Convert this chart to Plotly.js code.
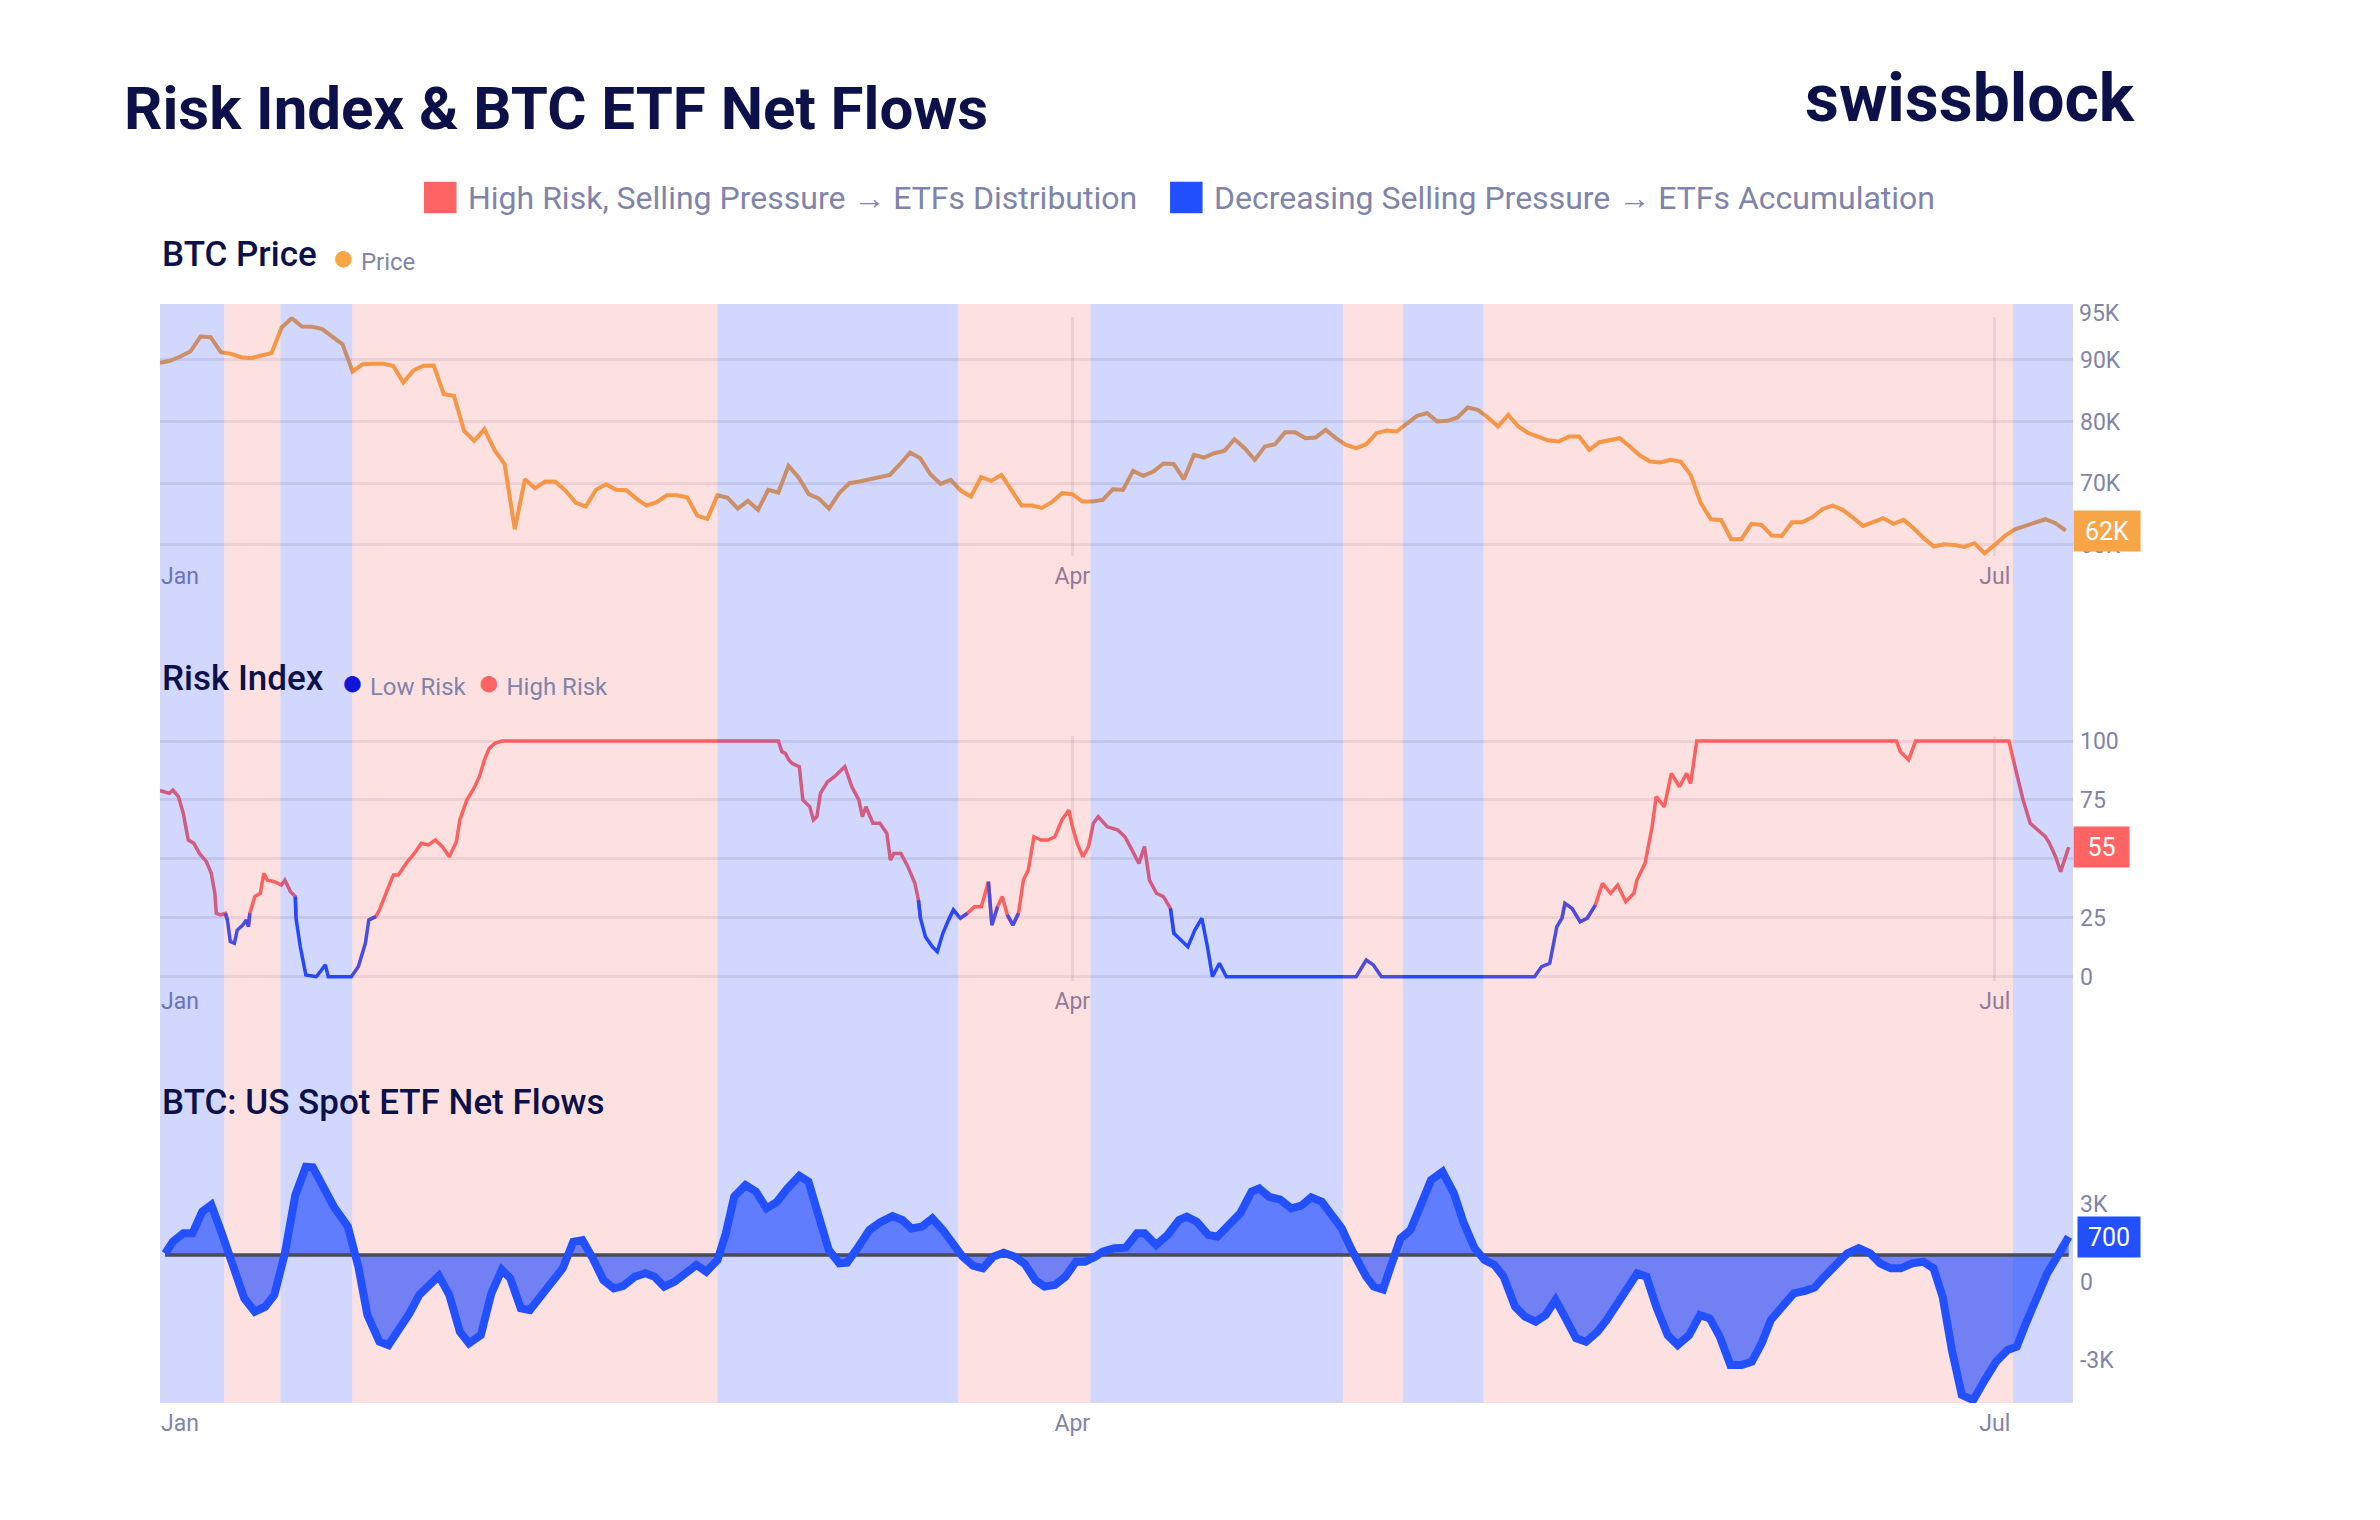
<!DOCTYPE html>
<html><head><meta charset="utf-8">
<script src="https://cdn.plot.ly/plotly-3.0.1.min.js"></script>
<style>html,body{margin:0;padding:0;background:#fff}</style>
</head><body><div id="chart" style="width:2380px;height:1520px"></div>
<script>
// ---------- data ----------
const startDate = '2026-01-01';
const axisEndDay = 188.72;
const monthTickDates = ['2026-01-01', '2026-04-01', '2026-07-01'];
const monthTickText = ['\u00a0\u00a0\u00a0\u00a0\u00a0\u00a0\u00a0Jan', 'Apr', 'Jul'];

// BTC price, thousand USD, one value per day from Jan 1
const priceK = [89.5, 89.84, 90.54, 91.35, 93.78, 93.67, 91.24, 90.97, 90.43, 90.27,
 90.70, 91.08, 95.24, 96.75, 95.40, 95.35, 94.97, 93.78, 92.54, 88.11,
 89.30, 89.35, 89.35, 89.03, 86.32, 88.27, 89.03, 89.08, 84.43, 84.16,
 78.49, 76.86, 78.76, 75.40, 73.08, 62.54, 70.65, 69.19, 70.27, 70.22,
 68.81, 66.86, 66.22, 68.92, 69.84, 68.92, 68.86, 67.51, 66.38, 66.92,
 68.05, 68.05, 67.73, 64.76, 64.22, 68.05, 67.62, 65.89, 67.13, 65.68,
 68.92, 68.49, 72.81, 70.92, 68.22, 67.51, 65.89, 68.38, 70.00, 70.27,
 70.65, 71.08, 71.35, 73.08, 74.97, 74.05, 71.46, 69.89, 70.54, 68.81,
 67.84, 70.97, 70.38, 71.35, 68.81, 66.38, 66.38, 66.00, 66.97, 68.38,
 68.22, 67.03, 67.03, 67.30, 69.03, 68.92, 72.00, 71.19, 71.89, 73.19,
 73.13, 70.65, 74.59, 74.16, 74.86, 75.24, 77.13, 75.68, 73.78, 75.95,
 76.32, 78.27, 78.27, 77.30, 77.40, 78.65, 77.30, 76.22, 75.68, 76.32,
 78.11, 78.54, 78.38, 79.73, 80.92, 81.35, 80.00, 80.11, 80.65, 82.27,
 81.89, 80.65, 79.19, 81.08, 79.19, 78.11, 77.46, 76.92, 76.76, 77.57,
 77.57, 75.41, 76.65, 76.92, 77.30, 75.95, 74.49, 73.51, 73.35, 73.78,
 73.51, 71.35, 66.76, 64.16, 64.05, 60.92, 60.92, 63.41, 63.24, 61.51,
 61.46, 63.68, 63.68, 64.49, 65.78, 66.38, 65.68, 64.43, 63.08, 63.68,
 64.32, 63.41, 64.05, 62.70, 61.08, 59.73, 60.11, 60.00, 59.68, 60.27,
 58.65, 60.00, 61.46, 62.54, 63.08, 63.68, 64.16, 63.51, 62.32];

// Risk index readings (day offset from Jan 1, value 0-100)
const riskDays = [0,0.92,1.27,1.82,2.30,2.79,3.34,3.89,4.58,5.06,5.41,5.55,5.96,6.45,6.65,6.93,7.34,7.62,8.17,8.52,
 8.72,8.86,9.35,9.90,10.24,10.59,11.28,11.97,12.32,12.87,13.35,13.42,13.84,14.39,15.42,16.32,16.60,18.88,19.57,20.26,
 20.60,21.29,21.64,22.33,23.02,23.50,24.40,25.09,25.78,26.47,27.16,27.85,28.54,29.24,29.58,30.27,30.96,31.51,32.0,32.48,
 33.03,33.72,61.0,61.35,61.69,62.04,62.38,63.07,63.42,64.11,64.46,64.80,65.15,65.84,66.53,67.56,68.25,68.94,69.29,69.64,
 70.33,71.02,71.71,72.05,72.40,73.09,73.78,74.47,74.82,75.02,75.51,76.20,76.68,77.23,77.79,78.27,78.96,79.65,80.34,81.03,
 81.72,82.07,82.62,83.10,83.59,84.14,84.69,85.18,85.66,86.21,86.90,87.59,88.28,88.97,89.66,90.01,90.49,91.04,91.60,92.08,
 92.56,93.46,94.50,95.19,95.88,96.57,97.12,97.61,98.30,98.99,99.68,100.02,100.71,101.40,102.09,102.78,103.33,103.82,104.51,105.20,
 118.0,119.0,119.7,120.5,135.6,136.3,137.1,137.4,137.8,138.3,138.6,139.3,140.1,140.8,141.6,142.3,143.1,143.8,144.6,145.4,
 145.7,146.5,146.9,147.2,147.6,148.4,149.1,149.9,150.6,151.0,151.6,171.3,171.7,172.5,173.2,182.4,183.0,183.8,184.5,185.3,
 186.0,186.4,187.0,187.5,188.3];
const riskValues = [79,77.8,79.2,76.4,69.3,58.0,56.6,52.3,48.8,43.9,35.4,26.9,26.2,26.9,24.1,14.9,14.2,19.8,21.9,24.1,
 21.2,26.9,34.0,35.4,43.9,41.0,40.3,38.9,41.0,36.1,34.0,24.8,12.7,0.7,0,5.0,0,0,4.3,14.2,
 24.1,25.5,28.3,35.4,43.2,43.2,48.8,52.3,56.6,55.9,58.0,55.2,50.9,57.3,66.5,75.0,79.9,84.9,91.9,96.9,
 99.0,100,100,95.5,94.8,92.0,90.5,89.1,75.0,72.1,66.5,67.9,77.8,82.7,84.9,89.1,80.6,75.0,67.9,72.1,
 65.1,65.1,60.8,49.5,52.3,52.3,46.7,39.6,32.5,24.8,17.0,12.7,10.6,18.4,24.1,28.3,24.8,26.9,29.7,29.7,
 40.3,21.9,29.7,34.0,26.2,21.9,26.9,41.0,45.3,59.4,58.0,58.0,59.4,66.5,70.7,63.6,56.6,50.9,55.2,65.1,
 67.9,63.6,62.2,59.4,53.8,48.1,55.2,41.0,35.4,34.0,29.0,18.4,15.6,12.7,19.8,24.8,12.7,0,5.7,0,
 0,7.1,5.0,0,0,4.3,5.7,12.7,21.2,24.8,31.1,29.0,23.3,24.8,30.4,39.6,35.4,38.9,31.8,35.4,
 41.0,48.1,56.6,63.6,76.4,72.1,86.3,80.6,86.3,82.0,100,100,95.5,92.0,100,100,89.1,75.0,65.1,62.2,
 59.4,56.6,50.9,44.6,55];
const riskThreshold = 25;

// US spot ETF net flows, BTC (day offset from Jan 1, value)
const flowDays = [0.51,1.27,2.30,3.20,4.17,5.06,6.10,7.14,8.31,9.35,10.38,11.28,12.32,13.35,14.39,15.08,16.11,17.15,18.53,19.57,
 20.46,21.64,22.54,23.50,24.61,25.58,26.47,27.51,28.54,29.58,30.48,31.65,32.69,33.72,34.55,35.59,36.49,37.52,38.70,39.73,
 40.77,41.67,42.70,43.74,44.77,45.67,46.85,47.88,48.78,49.74,50.78,51.82,52.92,53.89,55.0,55.82,56.65,57.76,58.79,59.83,
 60.87,61.90,63.07,63.97,64.94,65.98,67.01,67.77,68.81,69.98,71.02,72.26,73.23,74.12,75.16,76.19,77.23,78.13,79.17,80.20,
 81.17,82.21,83.24,84.28,85.31,86.35,87.25,88.28,89.32,90.36,91.25,92.29,93.0,94.13,95.26,96.39,97.14,98.27,99.40,100.53,
 101.29,102.27,103.40,104.30,105.43,106.56,107.69,108.44,109.42,110.48,111.61,112.59,113.57,114.62,115.60,116.58,117.48,118.24,118.99,119.74,
 120.65,121.47,122.38,123.36,124.26,125.39,126.52,127.65,128.63,129.69,130.67,131.64,132.55,133.68,134.66,135.71,136.69,137.67,138.57,139.70,
 140.68,141.81,142.72,143.62,144.60,145.73,146.64,147.61,148.74,149.72,150.85,151.91,152.89,153.87,154.92,156.05,157.03,158.01,158.91,160.04,
 161.17,162.30,163.21,164.19,165.32,166.45,167.58,168.71,169.69,170.74,171.72,172.85,173.98,174.96,175.86,176.77,177.75,178.88,180.01,181.13,
 182.27,183.17,184.15,185.13,186.18,187.16,188.29];
const flowValues = [60,510,830,830,1660,1920,830,-450,-1660,-2170,-1980,-1530,60,2300,3380,3360,2550,1850,1090,-450,
 -2300,-3320,-3450,-2940,-2240,-1530,-1210,-800,-1530,-2940,-3380,-3070,-1470,-570,-890,-2040,-2110,-1600,-1090,-510,
 510,570,-130,-960,-1280,-1190,-830,-700,-830,-1210,-1020,-700,-380,-640,-190,830,2240,2680,2430,1790,
 2040,2550,3030,2810,1600,190,-320,-290,260,960,1250,1490,1340,1020,1090,1400,960,470,-60,-410,
 -510,-60,90,-60,-340,-960,-1210,-1150,-830,-260,-260,-60,130,260,280,830,830,380,770,1340,
 1470,1280,770,700,1150,1600,2430,2550,2230,2130,1790,1890,2210,2040,1530,1020,260,-380,-830,-1210,
 -1320,-380,640,960,1850,2870,3190,2360,1210,260,-190,-380,-830,-1980,-2360,-2550,-2300,-1720,-2360,-3190,
 -3320,-2940,-2490,-1980,-1340,-700,-830,-1980,-3070,-3450,-3070,-2300,-2430,-3130,-4210,-4210,-4090,-3380,-2490,-1920,
 -1470,-1370,-1250,-830,-380,60,260,60,-320,-510,-510,-320,-260,-510,-1600,-3640,-5360,-5560,-4790,-4090,
 -3640,-3510,-2550,-1660,-700,-60,700];

// Background regimes (day offsets)
const bandStartDays = [0, 6.33, 11.89, 18.97, 55.0, 78.75, 91.80, 116.69, 122.60, 130.55, 182.81];
const bandTypes = ['acc','dist','acc','dist','acc','dist','acc','dist','acc','dist','acc'];

const priceTicks = [60, 70, 80, 90];
const riskTicks = [0, 25, 50, 75, 100];
const flowTicks = [3000, 0, -3000];
const flowTickText = ['3K', '0', '-3K'];

// ---------- styling ----------
const NAVY = '#0c1149', GRAY = '#8084aa';
const ORANGE = '#f7a546', RED = '#ff6464', BLUE = '#2a4dff', FLOWBLUE = '#2350ff';
const BAND_COLOR = {acc: 'rgba(25,55,245,0.2)', dist: 'rgba(245,75,75,0.17)'};
const GRID = 'rgba(110,95,140,0.13)';
const FONT = 'Roboto, "Noto Sans", sans-serif';

const DAY = 86400000, T0 = Date.parse(startDate + 'T00:00:00Z');
const toDate = d => new Date(T0 + d * DAY).toISOString().slice(0, 19).replace('T', ' ');

const priceDates = priceK.map((_, i) => toDate(i));
const riskDates = riskDays.map(toDate);
const flowDates = flowDays.map(toDate);

// split risk line into high / low parts (neighbouring points kept so the line is continuous)
const n = riskValues.length;
const hiY = riskValues.map((v, i) => (v >= riskThreshold || (i > 0 && riskValues[i-1] >= riskThreshold) || (i < n-1 && riskValues[i+1] >= riskThreshold)) ? v : null);
const loY = riskValues.map((v, i) => (v < riskThreshold || (i > 0 && riskValues[i-1] < riskThreshold) || (i < n-1 && riskValues[i+1] < riskThreshold)) ? v : null);

const traces = [
  {x: priceDates, y: priceK, xaxis: 'x', yaxis: 'y', mode: 'lines', line: {color: ORANGE, width: 4}, showlegend: false},
  {x: riskDates, y: hiY, xaxis: 'x2', yaxis: 'y2', mode: 'lines', line: {color: RED, width: 3.5}, connectgaps: false, showlegend: false},
  {x: riskDates, y: loY, xaxis: 'x2', yaxis: 'y2', mode: 'lines', line: {color: BLUE, width: 3.5}, connectgaps: false, showlegend: false},
  {x: flowDates, y: flowValues, xaxis: 'x3', yaxis: 'y3', mode: 'lines', fill: 'tozeroy', fillcolor: 'rgba(20,65,255,0.6)', line: {width: 0}, showlegend: false},
  {x: [flowDates[0], flowDates[flowDates.length-1]], y: [0, 0], xaxis: 'x3', yaxis: 'y3', mode: 'lines', line: {color: '#4a4a58', width: 3.5}, showlegend: false},
  {x: flowDates, y: flowValues, xaxis: 'x3', yaxis: 'y3', mode: 'lines', line: {color: FLOWBLUE, width: 8}, showlegend: false}
];

// background bands: above traces for price/risk, below traces for flows
const SPLIT = (1403 - 1050) / 1099;
const shapes = [];
bandStartDays.forEach((s, i) => {
  const e = i < bandStartDays.length - 1 ? bandStartDays[i+1] : axisEndDay;
  const c = BAND_COLOR[bandTypes[i]];
  shapes.push({type: 'rect', xref: 'x', yref: 'paper', x0: toDate(s), x1: toDate(e), y0: SPLIT, y1: 1, fillcolor: c, line: {width: 0}, layer: 'above'});
  shapes.push({type: 'rect', xref: 'x', yref: 'paper', x0: toDate(s), x1: toDate(e), y0: 0, y1: SPLIT, fillcolor: c, line: {width: 0}, layer: 'below'});
});
// legend squares
shapes.push({type: 'rect', xref: 'paper', yref: 'paper', x0: 0.1380, x1: 0.1550, y0: 1.0825, y1: 1.1113, fillcolor: RED, line: {width: 0}});
shapes.push({type: 'rect', xref: 'paper', yref: 'paper', x0: 0.5280, x1: 0.5450, y0: 1.0825, y1: 1.1113, fillcolor: FLOWBLUE, line: {width: 0}});

const lastPrice = priceK[priceK.length-1];
const lastRisk = riskValues[riskValues.length-1];
const lastFlow = flowValues[flowValues.length-1];

const dot = (c) => '<span style="color:' + c + ';font-size:38px">\u25CF</span>';
const ann = (o) => Object.assign({showarrow: false, xref: 'paper', yref: 'paper', xanchor: 'left', yanchor: 'middle'}, o);
const annotations = [
  ann({x: -0.0198, y: 1.1780, text: 'Risk Index & BTC ETF Net Flows', font: {family: FONT, size: 60, color: NAVY, weight: 700}}),
  ann({x: 1.0334, y: 1.1866, xanchor: 'right', text: 'swissblock', font: {family: FONT, size: 66, color: NAVY, weight: 700}}),
  ann({x: 0.1600, y: 1.0965, text: 'High Risk, Selling Pressure \u2192 ETFs Distribution', font: {family: FONT, size: 32, color: GRAY}}),
  ann({x: 0.5500, y: 1.0965, text: 'Decreasing Selling Pressure \u2192 ETFs Accumulation', font: {family: FONT, size: 32, color: GRAY}}),
  ann({x: 0, y: 1.0450, text: 'BTC Price', font: {family: FONT, size: 35, color: NAVY, weight: 500}}),
  ann({x: 0.0890, y: 1.0425, text: dot(ORANGE) + '\u00a0Price', font: {family: FONT, size: 24, color: GRAY}}),
  ann({x: 0, y: 0.6592, text: 'Risk Index', font: {family: FONT, size: 35, color: NAVY, weight: 500}}),
  ann({x: 0.0938, y: 0.6558, text: dot('#1414d8') + '\u00a0Low Risk\u00a0\u00a0' + dot(RED) + '\u00a0High Risk', font: {family: FONT, size: 24, color: GRAY}}),
  ann({x: 0, y: 0.2731, text: 'BTC: US Spot ETF Net Flows', font: {family: FONT, size: 35, color: NAVY, weight: 500}}),
  ann({x: 1, xshift: 4, y: 0.9918, text: '95K', font: {family: FONT, size: 23, color: GRAY}}),
  ann({x: 1, yref: 'y', y: lastPrice, text: Math.round(lastPrice) + 'K', bgcolor: ORANGE, width: 66, height: 40, borderpad: 0, font: {family: FONT, size: 25, color: '#ffffff'}}),
  ann({x: 1, yref: 'y2', y: lastRisk, text: String(Math.round(lastRisk)), bgcolor: RED, width: 55, height: 40, borderpad: 0, font: {family: FONT, size: 25, color: '#ffffff'}}),
  ann({x: 1, xshift: 4, yref: 'y3', y: lastFlow, text: String(lastFlow), bgcolor: FLOWBLUE, width: 62, height: 40, borderpad: 0, font: {family: FONT, size: 25, color: '#ffffff'}})
];

const tickFont = {family: FONT, size: 23, color: GRAY};
const xRange = [toDate(0), toDate(axisEndDay)];
const xCommon = {type: 'date', range: xRange, tickvals: monthTickDates, ticktext: monthTickText, tickfont: tickFont,
  showline: false, zeroline: false, ticks: '', showgrid: true, gridcolor: GRID, gridwidth: 3, ticklabelstandoff: 4};
const yCommon = {side: 'right', tickfont: tickFont, showline: false, zeroline: false, ticks: '', gridcolor: GRID, gridwidth: 3, ticklabelstandoff: 6};

const layout = {
  width: 2380, height: 1520,
  margin: {l: 160, r: 307, t: 304, b: 117},
  paper_bgcolor: '#ffffff', plot_bgcolor: 'rgba(0,0,0,0)',
  showlegend: false, hovermode: false,
  font: {family: FONT, color: GRAY},
  xaxis: Object.assign({}, xCommon, {anchor: 'y'}),
  xaxis2: Object.assign({}, xCommon, {anchor: 'y2', matches: 'x'}),
  xaxis3: Object.assign({}, xCommon, {anchor: 'y3', matches: 'x', showgrid: false}),
  yaxis: Object.assign({}, yCommon, {domain: [0.7707, 0.9885], range: [58.2, 97.0], tickvals: priceTicks, ticktext: priceTicks.map(v => v + 'K'), showgrid: true}),
  yaxis2: Object.assign({}, yCommon, {domain: [0.3836, 0.6066], range: [-2, 102], tickvals: riskTicks, showgrid: true}),
  yaxis3: Object.assign({}, yCommon, {domain: [0, 0.2484], range: [-5670, 4790], tickvals: flowTicks, ticktext: flowTickText, showgrid: false, ticklabelshift: 27}),
  shapes: shapes,
  annotations: annotations
};

Plotly.newPlot('chart', traces, layout, {staticPlot: true, displayModeBar: false});
</script>
</body></html>
